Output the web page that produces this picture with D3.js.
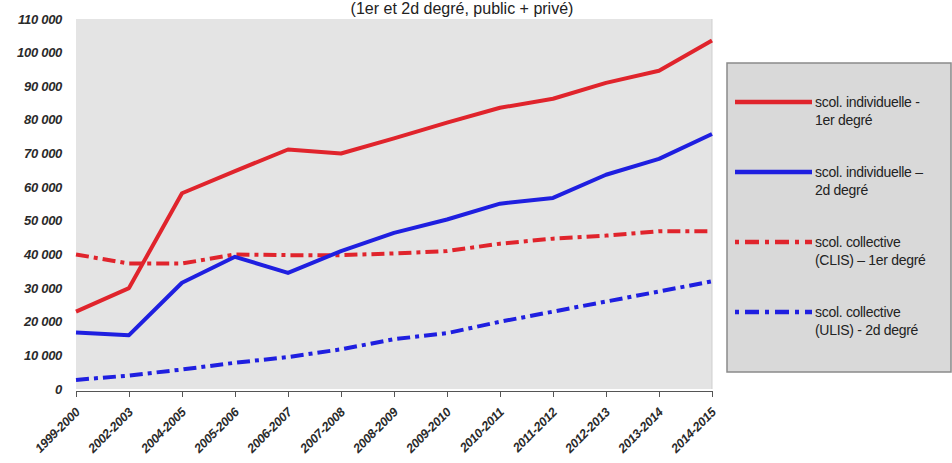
<!DOCTYPE html>
<html>
<head>
<meta charset="utf-8">
<script src="https://cdn.jsdelivr.net/npm/d3@7"></script>
<style>
  body { margin: 0; background: #fff; }
  svg { display: block; }
</style>
</head>
<body>
<script>
// school years
var years = ["1999-2000", "2002-2003", "2004-2005", "2005-2006", "2006-2007", "2007-2008",
             "2008-2009", "2009-2010", "2010-2011", "2011-2012", "2012-2013", "2013-2014", "2014-2015"];

// series values
var indiv1er = [23000, 30000, 58200, 64800, 71200, 70000, 74500, 79200, 83600, 86300, 91000, 94600, 103600];
var indiv2d  = [16800, 16000, 31600, 39300, 34500, 41000, 46400, 50400, 55100, 56800, 63700, 68400, 75800];
var clis     = [40000, 37300, 37300, 40000, 39800, 39800, 40300, 41000, 43200, 44700, 45600, 46900, 46900];
var ulis     = [2700, 4000, 5800, 7800, 9500, 11800, 14800, 16600, 20000, 23000, 26000, 29000, 32000];

var seriesNames = ["scol. individuelle -|1er degré", "scol. individuelle –|2d degré",
                   "scol. collective|(CLIS) – 1er degré", "scol. collective|(ULIS) - 2d degré"];

var yTicks = [0, 10000, 20000, 30000, 40000, 50000, 60000, 70000, 80000, 90000, 100000, 110000];

var titleText = "(1er et 2d degré, public + privé)";

// dimensions
var W = 952, H = 463;
var margin = {top: 19, left: 76},
    width = 712 - 76,
    height = 389 - 19;

var font = "Liberation Sans, Arial, sans-serif";

var svg = d3.select("body").append("svg")
    .attr("width", W)
    .attr("height", H);

var g = svg.append("g")
    .attr("transform", "translate(" + margin.left + "," + margin.top + ")");

var x = d3.scalePoint().domain(years).range([0, width]).padding(0);
var y = d3.scaleLinear().domain([0, 110000]).range([height, 0]);

// plot background
g.append("rect")
    .attr("x", 0).attr("y", 0)
    .attr("width", width).attr("height", height)
    .style("fill", "#e4e4e4");

// right border of plot
g.append("line")
    .attr("x1", width).attr("x2", width)
    .attr("y1", 0).attr("y2", height)
    .style("stroke", "#cfcfcf");

// title (top of it is near the edge, like the source)
svg.append("text")
    .attr("x", 462)
    .attr("y", 14)
    .attr("text-anchor", "middle")
    .style("font-family", font)
    .style("font-size", "16px")
    .style("fill", "#222")
    .text(titleText);

var fmt = function(d) { return d3.format(",")(d).replace(/,/g, " "); };

// y labels
g.selectAll(".ylab")
    .data(yTicks)
    .enter().append("text")
    .attr("class", "ylab")
    .attr("x", -14)
    .attr("y", function(d) { return y(d); })
    .attr("dy", "0.35em")
    .attr("text-anchor", "end")
    .style("font-family", font)
    .style("font-size", "13px")
    .style("font-weight", "bold")
    .style("font-style", "italic")
    .style("letter-spacing", "-0.3px")
    .style("fill", "#2a2a2a")
    .text(fmt);

// x axis
var xAxis = g.append("g")
    .attr("transform", "translate(0," + (height + 2) + ")")
    .call(d3.axisBottom(x).tickSize(6).tickSizeOuter(0));

xAxis.select(".domain").style("stroke", "#555");
xAxis.selectAll(".tick line").style("stroke", "#555").attr("y1", 0).attr("y2", 6);
xAxis.selectAll(".tick text")
    .attr("text-anchor", "end")
    .attr("transform", "translate(1,19) rotate(-45)")
    .attr("x", 0).attr("y", 0).attr("dy", "0.35em")
    .style("font-family", font)
    .style("font-size", "12.5px")
    .style("font-weight", "bold")
    .style("font-style", "italic")
    .style("letter-spacing", "-0.3px")
    .style("fill", "#2a2a2a");

// lines
var styles = [
  {color: "#e0242c", dash: null},
  {color: "#1f1fe0", dash: null},
  {color: "#e0242c", dash: "13,5,4,5"},
  {color: "#1f1fe0", dash: "13,5,4,5"}
];
var allSeries = [indiv1er, indiv2d, clis, ulis];

var line = d3.line()
    .x(function(d, i) { return x(years[i]); })
    .y(function(d) { return y(d); });

// draw dashed first so solid lines are on top
[3, 2, 1, 0].forEach(function(k) {
  g.append("path")
      .datum(allSeries[k])
      .style("fill", "none")
      .style("stroke", styles[k].color)
      .style("stroke-width", 4)
      .style("stroke-linejoin", "round")
      .style("stroke-dasharray", styles[k].dash)
      .attr("d", line);
});

// legend
var legend = svg.append("g").attr("transform", "translate(727,63)");
legend.append("rect")
    .attr("x", 0).attr("y", 0)
    .attr("width", 224).attr("height", 309)
    .style("fill", "#d9d9d9")
    .style("stroke", "#8a8a8a")
    .style("stroke-width", 1.5);

seriesNames.forEach(function(name, i) {
  var ly = 39 + i * 70;
  legend.append("line")
      .attr("x1", 8).attr("x2", 85)
      .attr("y1", ly).attr("y2", ly)
      .style("stroke", styles[i].color)
      .style("stroke-width", 4.5)
      .style("stroke-dasharray", styles[i].dash ? "4,6,14,6" : null);
  var t = legend.append("text")
      .attr("x", 88)
      .attr("y", ly + 5)
      .style("font-family", font)
      .style("font-size", "14px")
      .style("letter-spacing", "-0.3px")
      .style("fill", "#222");
  name.split("|").forEach(function(part, j) {
    t.append("tspan")
        .attr("x", 88)
        .attr("dy", j === 0 ? 0 : 18)
        .text(part);
  });
});
</script>
</body>
</html>
